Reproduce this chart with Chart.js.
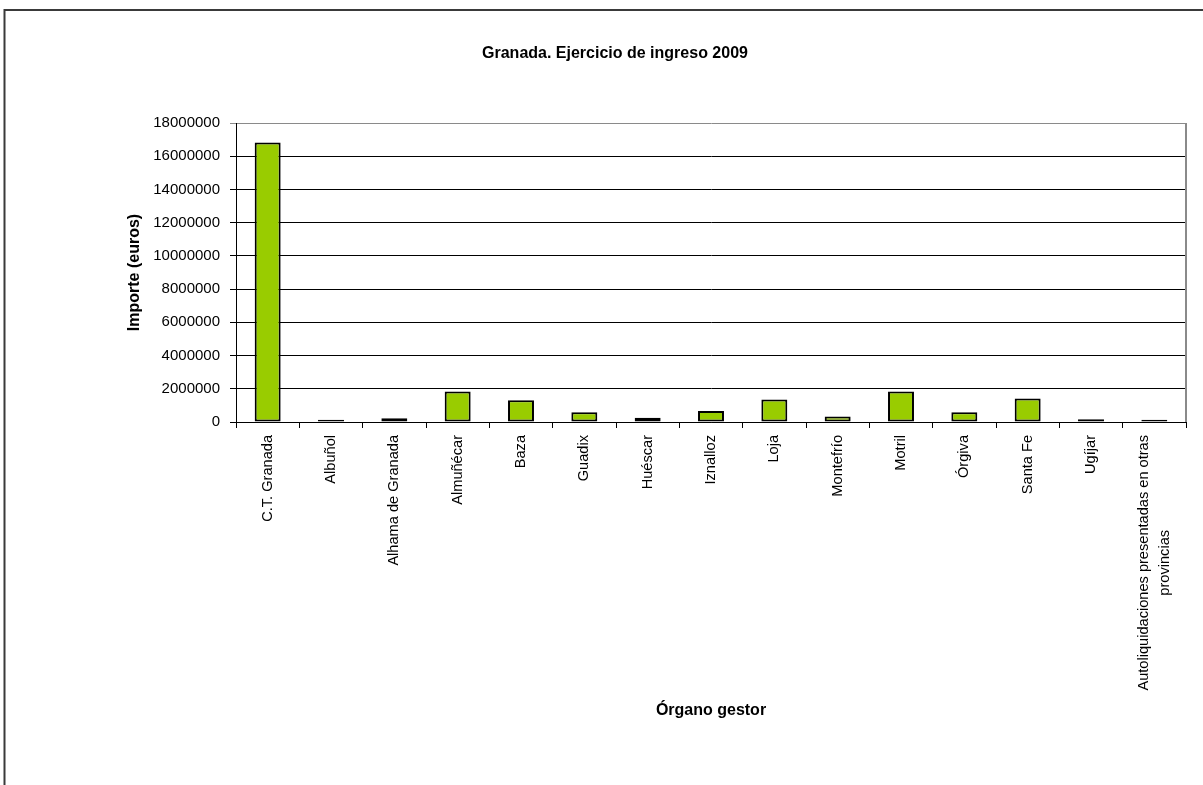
<!DOCTYPE html>
<html>
<head>
<meta charset="utf-8">
<script src="https://cdn.jsdelivr.net/npm/chart.js@4/dist/chart.umd.min.js"></script>
<style>
  html, body { margin: 0; padding: 0; background: #fff; }
  #wrap { position: relative; width: 1203px; height: 785px; }
  canvas { display: block; }
</style>
</head>
<body>
<div id="wrap"><canvas id="c" width="1203" height="785"></canvas></div>
<script>
const chartTitle = 'Granada. Ejercicio de ingreso 2009';
const yAxisTitle = 'Importe (euros)';
const xAxisTitle = 'Órgano gestor';
const categories = [
  'C.T. Granada', 'Albuñol', 'Alhama de Granada', 'Almuñécar', 'Baza', 'Guadix',
  'Huéscar', 'Iznalloz', 'Loja', 'Montefrío', 'Motril', 'Órgiva', 'Santa Fe', 'Ugíjar',
  ['Autoliquidaciones presentadas en otras', 'provincias']
];
const importes = [
  16820000, 130000, 220000, 1830000, 1310000, 580000,
  260000, 660000, 1350000, 330000, 1830000, 580000, 1410000, 160000, 140000
];
const yTickValues = [0, 2000000, 4000000, 6000000, 8000000, 10000000, 12000000, 14000000, 16000000, 18000000];

const FONT = "'Liberation Sans', Arial, sans-serif";
const X_LABEL_SIZE = 14.6;
const X_TICK_LEN = 6;
const X_TICK_PAD = 7;

const framePlugin = {
  id: 'frame',
  beforeDraw(chart) {
    const ctx = chart.ctx;
    ctx.save();
    ctx.fillStyle = '#fff';
    ctx.fillRect(0, 0, chart.width, chart.height);
    ctx.strokeStyle = '#3a3a3a';
    ctx.lineWidth = 2;
    ctx.beginPath();
    ctx.moveTo(4.5, chart.height);
    ctx.lineTo(4.5, 10);
    ctx.lineTo(chart.width, 10);
    ctx.stroke();
    ctx.restore();
  },
  afterDraw(chart) {
    const a = chart.chartArea;
    const ctx = chart.ctx;
    ctx.save();
    ctx.strokeStyle = '#8a8a8a';
    ctx.lineWidth = 2;
    ctx.beginPath();
    ctx.moveTo(a.right, a.top);
    ctx.lineTo(a.right, a.bottom);
    ctx.stroke();

    // multi-line category labels, centred on their tick (as in the reference)
    const xs = chart.scales.x;
    ctx.font = X_LABEL_SIZE + 'px ' + FONT;
    ctx.fillStyle = '#000';
    ctx.textAlign = 'center';
    ctx.textBaseline = 'middle';
    categories.forEach((lab, i) => {
      if (!Array.isArray(lab)) return;
      const px = xs.getPixelForTick(i);
      const maxW = Math.max(...lab.map(t => ctx.measureText(t).width));
      const yc = xs.top + X_TICK_LEN + X_TICK_PAD + maxW / 2;
      const spacing = 21;
      lab.forEach((t, j) => {
        const x = px + (j - (lab.length - 1) / 2) * spacing;
        ctx.save();
        ctx.translate(x, yc);
        ctx.rotate(-Math.PI / 2);
        ctx.fillText(t, 0, 0);
        ctx.restore();
      });
    });
    ctx.restore();
  }
};

new Chart(document.getElementById('c'), {
  type: 'bar',
  data: {
    labels: categories,
    datasets: [{
      data: importes,
      backgroundColor: '#99CC00',
      borderColor: '#000',
      borderWidth: 2,
      borderSkipped: false,
      categoryPercentage: 1,
      barPercentage: 0.41
    }]
  },
  options: {
    responsive: false,
    animation: false,
    layout: { padding: { left: 44, right: 17, top: 0, bottom: 40 } },
    plugins: {
      legend: { display: false },
      tooltip: { enabled: false },
      title: {
        display: true,
        text: chartTitle,
        color: '#000',
        font: { family: FONT, size: 16, weight: 'bold', lineHeight: 1.2 },
        padding: { top: 44, bottom: 59.8 }
      }
    },
    scales: {
      x: {
        offset: true,
        grid: { display: true, drawOnChartArea: false, drawTicks: true, tickLength: X_TICK_LEN, color: '#000', offset: true },
        border: { display: true, color: '#000', width: 1 },
        ticks: {
          autoSkip: false, minRotation: 90, maxRotation: 90, padding: X_TICK_PAD,
          color: '#000', font: { family: FONT, size: X_LABEL_SIZE },
          callback: (v, i) => Array.isArray(categories[i]) ? '' : categories[i]
        },
        title: {
          display: true, text: xAxisTitle, color: '#000',
          font: { family: FONT, size: 16, weight: 'bold', lineHeight: 1.2 },
          padding: { top: 0, bottom: 24.4 }
        },
        afterFit(scale) { scale.height = 323; }
      },
      y: {
        min: 0, max: 18000000,
        afterBuildTicks(scale) { scale.ticks = yTickValues.map(v => ({ value: v })); },
        grid: {
          drawTicks: true, tickLength: 6,
          color: ctx => (ctx.tick && ctx.tick.value === 18000000) ? '#8a8a8a' : '#000'
        },
        border: { display: true, color: '#000', width: 1 },
        ticks: {
          padding: 10, color: '#000', font: { family: FONT, size: 15 },
          callback: v => String(v)
        },
        title: {
          display: true, text: yAxisTitle, color: '#000',
          font: { family: FONT, size: 16, weight: 'bold', lineHeight: 1.2 },
          padding: { top: 81.4, bottom: 0 }
        },
        afterFit(scale) { scale.width = 192; }
      }
    }
  },
  plugins: [framePlugin]
});
</script>
</body>
</html>
